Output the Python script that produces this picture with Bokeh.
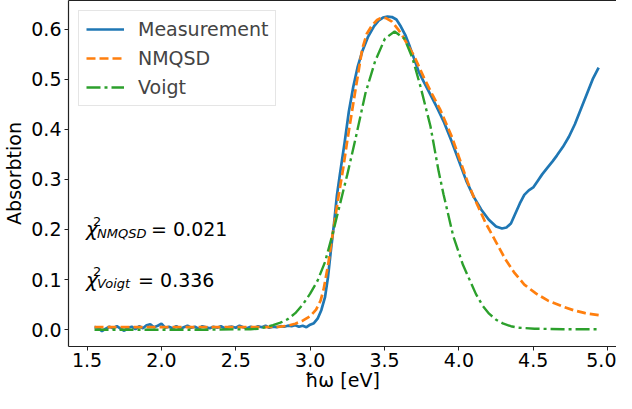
from bokeh.plotting import figure
from bokeh.models import Range1d, LinearAxis, FixedTicker, PrintfTickFormatter, Legend, LegendItem, Label
from bokeh.embed import file_html
from bokeh.resources import INLINE

# ---------------- data ----------------
meas_x = [1.550, 1.575, 1.600, 1.625, 1.650, 1.675, 1.700, 1.725, 1.750, 1.775,
          1.800, 1.825, 1.850, 1.875, 1.900, 1.925, 1.950, 1.975, 2.000, 2.025,
          2.050, 2.075, 2.100, 2.125, 2.150, 2.175, 2.200, 2.225, 2.250, 2.275,
          2.300, 2.325, 2.350, 2.375, 2.400, 2.425, 2.450, 2.475, 2.500, 2.525,
          2.550, 2.575, 2.600, 2.625, 2.650, 2.675, 2.700, 2.725, 2.750, 2.775,
          2.800, 2.825, 2.850, 2.875, 2.900, 2.925, 2.950, 2.975, 3.000, 3.025,
          3.050, 3.075, 3.100, 3.120, 3.140, 3.160, 3.180, 3.200, 3.230, 3.260,
          3.290, 3.320, 3.350, 3.390, 3.430, 3.460, 3.490, 3.520, 3.550, 3.580,
          3.610, 3.640, 3.670, 3.700, 3.730, 3.760, 3.800, 3.850, 3.900, 3.950,
          4.000, 4.050, 4.100, 4.150, 4.200, 4.250, 4.290, 4.320, 4.350, 4.380,
          4.410, 4.440, 4.470, 4.500, 4.530, 4.560, 4.600, 4.630, 4.660, 4.700,
          4.740, 4.780, 4.820, 4.860, 4.900, 4.940]
meas_y = [0.005, 0.004, -0.003, 0.002, 0.006, 0.003, 0.007, 0.002, -0.002, 0.004,
          0.006, 0.001, 0.007, 0.003, 0.009, 0.011, 0.005, 0.008, 0.012, 0.004,
          0.006, 0.003, 0.007, 0.002, 0.005, 0.008, 0.004, 0.006, 0.002, 0.007,
          0.005, 0.003, 0.006, 0.004, 0.007, 0.003, 0.005, 0.006, 0.004, 0.008,
          0.005, 0.003, 0.006, 0.004, 0.007, 0.005, 0.008, 0.004, 0.006, 0.005,
          0.007, 0.006, 0.008, 0.007, 0.009, 0.006, 0.008, 0.005, 0.010, 0.013,
          0.022, 0.039, 0.065, 0.105, 0.160, 0.210, 0.268, 0.310, 0.370, 0.435,
          0.485, 0.525, 0.555, 0.585, 0.606, 0.617, 0.623, 0.625, 0.624, 0.619,
          0.605, 0.588, 0.565, 0.540, 0.515, 0.497, 0.474, 0.445, 0.414, 0.377,
          0.337, 0.297, 0.265, 0.240, 0.220, 0.206, 0.202, 0.204, 0.212, 0.232,
          0.252, 0.269, 0.278, 0.284, 0.297, 0.310, 0.325, 0.336, 0.348, 0.365,
          0.385, 0.410, 0.440, 0.470, 0.500, 0.523]

nmqsd_x = [1.55, 1.80, 2.10, 2.40, 2.70, 2.80, 2.85, 2.90, 2.95, 3.00, 3.04,
           3.07, 3.09, 3.12, 3.15, 3.19, 3.22, 3.25, 3.30, 3.35, 3.38, 3.415,
           3.45, 3.48, 3.51, 3.55, 3.59, 3.62, 3.66, 3.70, 3.765, 3.82, 3.875,
           3.95, 4.00, 4.06, 4.10, 4.18, 4.25, 4.31, 4.37, 4.44, 4.52, 4.60,
           4.70, 4.77, 4.85, 4.94]
nmqsd_y = [0.005, 0.005, 0.005, 0.005, 0.005, 0.006, 0.008, 0.012, 0.018, 0.027, 0.040,
           0.058, 0.080, 0.128, 0.188, 0.265, 0.318, 0.378, 0.470, 0.560, 0.590, 0.607,
           0.618, 0.623, 0.622, 0.615, 0.600, 0.587, 0.566, 0.546, 0.503, 0.470, 0.439,
           0.387, 0.345, 0.294, 0.265, 0.213, 0.175, 0.142, 0.115, 0.090, 0.072, 0.058,
           0.046, 0.039, 0.033, 0.029]

voigt_x = [1.55, 1.90, 2.30, 2.60, 2.65, 2.70, 2.75, 2.80, 2.85, 2.90, 2.95,
           3.00, 3.05, 3.10, 3.15, 3.20, 3.25, 3.305, 3.371, 3.437, 3.503,
           3.568, 3.634, 3.688, 3.743, 3.809, 3.864, 3.897, 3.962, 4.028, 4.115,
           4.160, 4.203, 4.250, 4.300, 4.350, 4.400, 4.509, 4.70, 4.95]
voigt_y = [0.000, 0.000, 0.000, 0.001, 0.002, 0.005, 0.009, 0.014, 0.021, 0.033, 0.050,
           0.072, 0.098, 0.135, 0.190, 0.250, 0.310, 0.381, 0.471, 0.536, 0.581,
           0.595, 0.581, 0.542, 0.484, 0.406, 0.316, 0.270, 0.187, 0.129, 0.071,
           0.048, 0.032, 0.020, 0.012, 0.007, 0.004, 0.002, 0.001, 0.001]

x_ticks = [1.5, 2.0, 2.5, 3.0, 3.5, 4.0, 4.5, 5.0]
y_ticks = [0.0, 0.1, 0.2, 0.3, 0.4, 0.5, 0.6]
series_names = ["Measurement", "NMQSD", "Voigt"]
chi_labels = ["NMQSD", "Voigt"]
chi_values = ["0.021", "0.336"]
chi_levels = [0.2, 0.1]
x_title = "ħω [eV]"
y_title = "Absorbtion"

FONT = "DejaVu Sans"
FS = "19px"
BLUE, ORANGE, GREEN = "#1f77b4", "#ff7f0e", "#2ca02c"
X0, X1, Y0, Y1 = 1.375, 5.06, -0.0335, 0.657

p = figure(width=616, height=393, output_backend="svg", toolbar_location=None,
           x_range=Range1d(X0, X1), y_range=Range1d(Y0, Y1),
           min_border_left=62, min_border_right=0, min_border_top=0, min_border_bottom=0)
p.outline_line_color = None
p.grid.visible = False
p.background_fill_color = "white"
p.border_fill_color = "white"

r1 = p.line(meas_x, meas_y, line_color=BLUE, line_width=2.7)
r2 = p.line(nmqsd_x, nmqsd_y, line_color=ORANGE, line_width=2.7, line_dash="9 4")
r3 = p.line(voigt_x, voigt_y, line_color=GREEN, line_width=2.4, line_dash="14 4 3 4")

for ax in (p.xaxis[0], p.yaxis[0]):
    ax.axis_line_color = "#222222"
    ax.axis_line_width = 1.2
    ax.major_tick_line_color = "#222222"
    ax.major_tick_out = 4
    ax.major_tick_in = 0
    ax.minor_tick_out = 0
    ax.minor_tick_in = 0
    ax.major_label_text_font = FONT
    ax.major_label_text_font_size = FS
    ax.major_label_text_color = "black"
    ax.axis_label_text_font = FONT
    ax.axis_label_text_font_size = FS
    ax.axis_label_text_font_style = "normal"
    ax.axis_label_text_color = "black"
    ax.formatter = PrintfTickFormatter(format="%.1f")

p.xaxis[0].ticker = FixedTicker(ticks=x_ticks)
p.yaxis[0].ticker = FixedTicker(ticks=y_ticks)
p.xaxis[0].axis_label = x_title
p.yaxis[0].axis_label = y_title
p.xaxis[0].major_label_standoff = 2
p.xaxis[0].axis_label_standoff = -1
p.yaxis[0].major_label_standoff = 3
p.yaxis[0].axis_label_standoff = 3

top = LinearAxis(ticker=FixedTicker(ticks=[]), axis_line_color="#222222", axis_line_width=1.2,
                 major_tick_out=0, major_tick_in=0, minor_tick_out=0, minor_tick_in=0,
                 major_label_text_font_size="0px", major_label_standoff=0)
p.add_layout(top, "above")

legend = Legend(items=[LegendItem(label=series_names[0], renderers=[r1]),
                       LegendItem(label=series_names[1], renderers=[r2]),
                       LegendItem(label=series_names[2], renderers=[r3])],
                location="top_left", margin=10, padding=7, spacing=7,
                glyph_width=38, glyph_height=20, label_height=20, label_standoff=14,
                label_text_font=FONT, label_text_font_size=FS,
                border_line_color="#cccccc", border_line_width=1,
                background_fill_color="white", background_fill_alpha=0.8)
p.add_layout(legend)

eq_off = [64, 51]
for name, val, lvl, eo in zip(chi_labels, chi_values, chi_levels, eq_off):
    p.add_layout(Label(x=1.5, y=lvl, x_offset=-1, text="χ", text_font=FONT, text_font_style="italic",
                       text_font_size="20px", text_baseline="alphabetic", text_color="black"))
    p.add_layout(Label(x=1.5, y=lvl, x_offset=6, y_offset=8, text="2", text_font=FONT,
                       text_font_size="13px", text_baseline="alphabetic", text_color="black"))
    p.add_layout(Label(x=1.5, y=lvl, x_offset=10, y_offset=-4, text=name, text_font=FONT,
                       text_font_style="italic", text_font_size="13px",
                       text_baseline="alphabetic", text_color="black"))
    p.add_layout(Label(x=1.5, y=lvl, x_offset=eo, text="= " + val, text_font=FONT,
                       text_font_size=FS, text_baseline="alphabetic", text_color="black"))

open("out.html", "w").write(file_html(p, INLINE))
